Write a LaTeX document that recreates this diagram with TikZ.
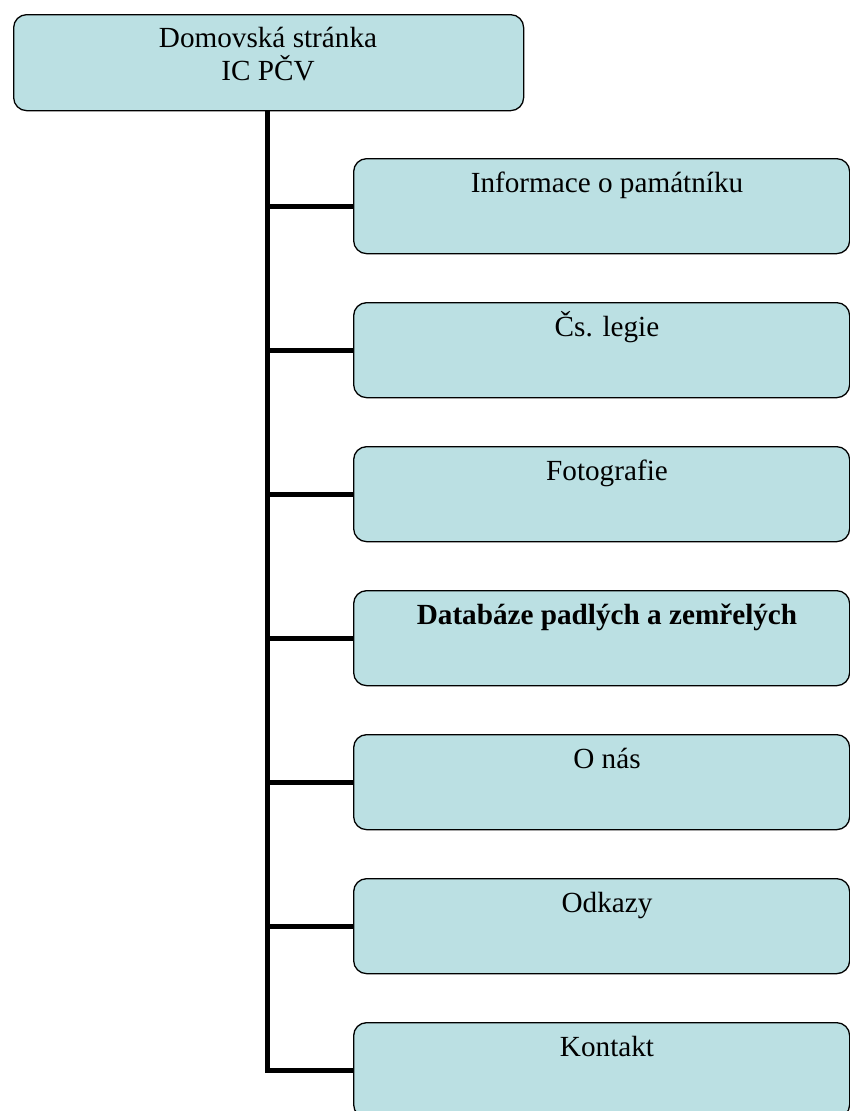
\documentclass[tikz,border=0pt]{standalone}
\usepackage{fontspec}
\setmainfont{Liberation Serif}
\definecolor{boxfill}{HTML}{BBE0E3}
\tikzset{
  x=1pt,y=-1pt,
  navbox/.style={draw=black,line width=1.3pt,fill=boxfill,rounded corners=13pt,minimum width=#1,minimum height=95pt,inner sep=0pt,anchor=north west},
  navbox/.default=496pt,
  lbl/.style={font=\fontsize{29.2}{33}\selectfont,inner sep=0pt,anchor=base},
  trunk/.style={line width=5pt}
}
\begin{document}
\begin{tikzpicture}
\useasboundingbox (0,0) rectangle (850,1111);
\begin{scope}
\clip (0,0) rectangle (850,1111);
% top box
\node[navbox=510pt,minimum height=96pt] (home) at (13,14) {};
\node[lbl] (hometxt1) at (268,47) {Domovská stránka};
\node[lbl] (hometxt2) at (268,80) {IC PČV};
% trunk
\coordinate (tb) at (267,1072);
% children
\foreach \i/\t/\txt in {1/158/{Informace o památníku},2/302/{Čs. legie},3/446/{Fotografie},4/590/{\textbf{Databáze padlých a zemřelých}},5/734/{O nás},6/878/{Odkazy},7/1022/{Kontakt}}{
  \node[navbox] (c\i) at (353,\t) {};
  \node[lbl] (t\i) at (607,\t+34) {\txt};
}
\foreach \i in {1,...,6}{
  \draw[trunk] (c\i.west) -- (c\i.west -| tb);
}
\draw[trunk] (home.south -| tb) -- (c7.west -| tb) -- (c7.west);
\end{scope}
\end{tikzpicture}
\end{document}
